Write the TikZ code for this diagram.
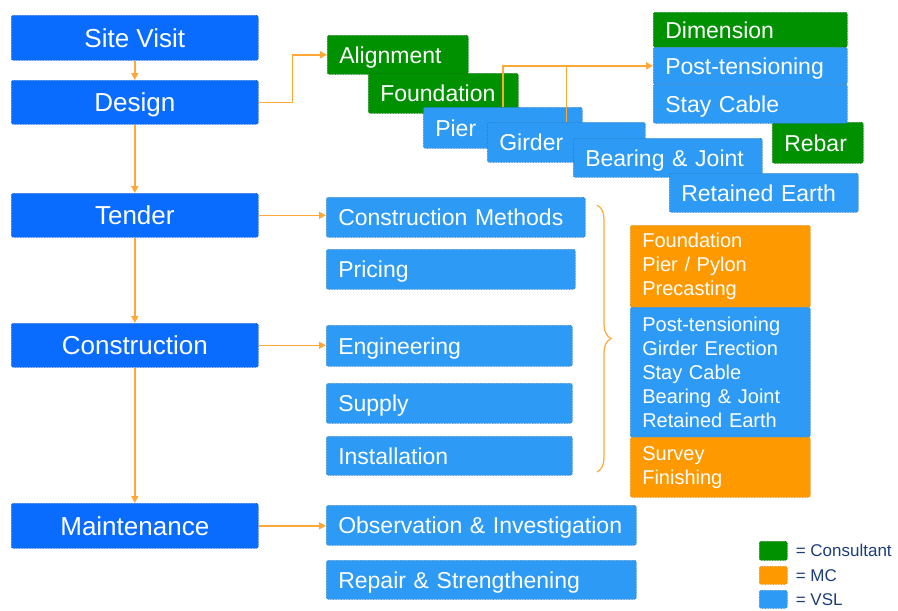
\documentclass[tikz,border=0pt]{standalone}
\usepackage{fontspec}
\setmainfont{Liberation Sans}
\usepackage{tikz}
\usetikzlibrary{positioning, arrows.meta, decorations.pathreplacing}
\usepackage{xcolor}
\definecolor{azulforte}{RGB}{10,108,255}
\definecolor{azulvsl}{RGB}{45,155,245}
\definecolor{verdecons}{RGB}{0,145,0}
\definecolor{laranjamc}{RGB}{255,153,0}
\definecolor{laranjaseta}{RGB}{255,168,55}
\definecolor{azultexto}{RGB}{28,62,120}

\begin{document}
\begin{tikzpicture}[x=1pt, y=-1pt,
    caixa/.style={rounded corners=2pt, densely dotted, line width=0.6pt, text=white,
                  anchor=north west, inner xsep=12pt, inner ysep=0pt, align=left},
    etapa/.style={caixa, draw=azulforte!75!black, fill=azulforte, align=center, inner xsep=0pt,
                  font=\fontsize{26}{28}\selectfont, text height=18.6pt, text depth=0pt,
                  minimum width=247pt, minimum height=45pt},
    item/.style={font=\fontsize{23}{26}\selectfont, text height=16.5pt, text depth=0pt},
    vsl/.style={caixa, draw=azulvsl!70!black, fill=azulvsl},
    cons/.style={caixa, draw=verdecons!70!black, fill=verdecons},
    mc/.style={caixa, draw=laranjamc!80!black, fill=laranjamc},
    lista/.style={font=\fontsize{20}{24}\selectfont, text width=156pt},
    flow/.style={-{Triangle[length=7pt,width=7pt]}, draw=laranjaseta, line width=1.5pt},
    link/.style={draw=laranjaseta, line width=1.5pt},
    chave/.style={decorate, decoration={brace, amplitude=14pt}, draw=laranjaseta, line width=1.2pt},
    legenda/.style={font=\fontsize{17}{19}\selectfont, text=azultexto, inner sep=0pt}]
  \useasboundingbox (0,0) rectangle (898,611);

  % Etapas principais
  \node[etapa, minimum height=45pt] (site) at (11,15) {Site Visit};
  \node[etapa, minimum height=44pt] (design) at (11,80) {Design};
  \node[etapa, minimum height=44pt] (tender) at (11,193) {Tender};
  \node[etapa, minimum height=44pt] (constr) at (11,323) {Construction};
  \node[etapa, minimum height=45pt] (maint) at (11,503) {Maintenance};

  % Itens do projeto (cascata)
  \node[cons, item, text width=117pt, minimum height=39pt] (align) at (327,35) {Alignment};
  \node[cons, item, text width=126pt, minimum height=40pt] (found) at (368,73) {Foundation};
  \node[vsl, item, text width=135pt, minimum height=41pt] (pier) at (423,107) {Pier};
  \node[vsl, item, text width=134pt, minimum height=40pt] (girder) at (487,122) {Girder};
  \node[vsl, item, text width=165pt, minimum height=39pt] (bearing) at (573,138) {Bearing \& Joint};
  \node[vsl, item, text width=165pt, minimum height=39pt] (retained) at (669,173) {Retained Earth};
  \node[cons, item, text width=67pt, minimum height=41pt] (rebar) at (772,122) {Rebar};
  \node[cons, item, text width=170pt, minimum height=35pt] (dim) at (653,12) {Dimension};
  \node[vsl, item, text width=170pt, minimum height=37pt] (post) at (653,47) {Post-tensioning};
  \node[vsl, item, text width=170pt, minimum height=39pt] (stay) at (653,84) {Stay Cable};

  % Concorrência e obra
  \node[vsl, item, text width=235pt, minimum height=40pt] (cmeth) at (326,197) {Construction Methods};
  \node[vsl, item, text width=225pt, minimum height=40pt] (pricing) at (326,249) {Pricing};
  \node[vsl, item, text width=222pt, minimum height=41pt] (engin) at (326,325) {Engineering};
  \node[vsl, item, text width=222pt, minimum height=40pt] (supply) at (326,383) {Supply};
  \node[vsl, item, text width=222pt, minimum height=39pt] (install) at (326,436) {Installation};
  \node[vsl, item, text width=286pt, minimum height=40pt] (observ) at (326,505) {Observation \& Investigation};
  \node[vsl, item, text width=286pt, minimum height=39pt] (repair) at (326,560) {Repair \& Strengthening};

  % Divisão dos trabalhos
  \node[mc, lista, minimum height=82pt] (mcA) at (630,225) {Foundation\\Pier / Pylon\\Precasting};
  \node[vsl, lista, minimum height=130pt] (vslA) at (630,307)
    {Post-tensioning\\Girder Erection\\Stay Cable\\Bearing \& Joint\\Retained Earth};
  \node[mc, lista, minimum height=60pt] (mcB) at (630,437) {Survey\\Finishing};

  % Setas
  \draw[flow] (site) -- (design);
  \draw[flow] (design) -- (tender);
  \draw[flow] (tender) -- (constr);
  \draw[flow] (constr) -- (maint);
  \draw[flow] (design.east) -- ++(34,0) |- (align.west);
  \draw[flow] (tender.east) -- (tender.east -| cmeth.west);
  \draw[flow] (constr.east) -- (constr.east -| engin.west);
  \draw[flow] (maint.east) -- (maint.east -| observ.west);
  \draw[flow] (pier.north) |- (post.west);
  \draw[link] (girder.north) -- (girder.north |- post.west);

  % Chave
  \draw[chave] (597,205) -- (597,472);

  % Legenda
  \node[cons, minimum width=28pt, minimum height=19pt, inner sep=0pt] (legcons) at (759,541) {};
  \node[mc, minimum width=28pt, minimum height=18pt, inner sep=0pt] (legmc) at (759,566) {};
  \node[vsl, minimum width=28pt, minimum height=18pt, inner sep=0pt] (legvsl) at (759,590) {};
  \node[legenda, right=8pt of legcons] (txtcons) {= Consultant};
  \node[legenda, right=8pt of legmc] (txtmc) {= MC};
  \node[legenda, right=8pt of legvsl] (txtvsl) {= VSL};
\end{tikzpicture}
\end{document}
